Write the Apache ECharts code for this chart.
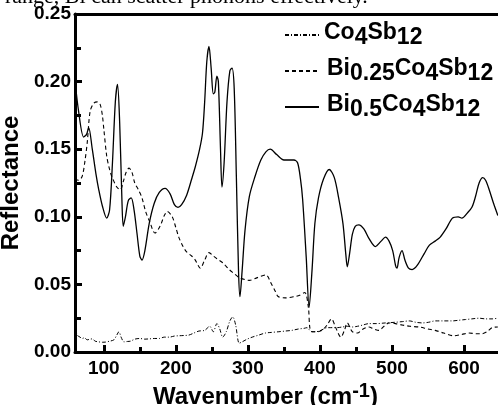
<!DOCTYPE html>
<html>
<head>
<meta charset="utf-8">
<script src="https://cdn.jsdelivr.net/npm/echarts@6/dist/echarts.min.js"></script>
<style>
  html, body { margin: 0; padding: 0; background: #fff; }
  #main { width: 498px; height: 405px; }
</style>
</head>
<body>
<div id="main"></div>
<script>
// 数据: 波数 (cm-1) 与反射率
var seriesNames = ['Co4Sb12', 'Bi0.25Co4Sb12', 'Bi0.5Co4Sb12'];

var coWave = [60, 63, 67, 70, 73, 77, 81, 84, 88, 93, 98, 102, 108, 114, 118, 121, 124, 128, 133, 137,
  143, 150, 157, 163, 170, 177, 184, 191, 198, 204, 211, 218, 225, 232, 240, 247, 252, 257, 261, 265,
  270, 275, 279, 283, 288, 292, 299, 306, 315, 324, 333, 343, 352, 361, 370, 378, 382, 386, 389, 394,
  399, 405, 410, 417, 424, 431, 438, 445, 452, 460, 468, 478, 491, 505, 515, 524, 533, 542, 551, 560,
  572, 584, 593, 602, 611, 621, 630, 639, 647];
var coRefl = [0.0185, 0.0125, 0.011, 0.010, 0.0105, 0.009, 0.0095, 0.0097, 0.008, 0.0075, 0.0072, 0.0073, 0.008, 0.009, 0.0125, 0.015, 0.011, 0.0075, 0.0078, 0.008,
  0.0095, 0.010, 0.0095, 0.0097, 0.010, 0.010, 0.011, 0.011, 0.0118, 0.012, 0.0122, 0.0125, 0.014, 0.0155, 0.016, 0.019, 0.015, 0.021, 0.017, 0.011,
  0.015, 0.023, 0.026, 0.020, 0.0065, 0.0075, 0.0095, 0.011, 0.0125, 0.014, 0.0145, 0.015, 0.0155, 0.016, 0.017, 0.0175, 0.018, 0.016, 0.015, 0.015,
  0.0155, 0.017, 0.018, 0.018, 0.018, 0.0185, 0.019, 0.0185, 0.019, 0.020, 0.021, 0.021, 0.0215, 0.022, 0.0225, 0.023, 0.022, 0.0215, 0.022, 0.023,
  0.023, 0.023, 0.0235, 0.024, 0.0245, 0.025, 0.0245, 0.0245, 0.025];

var bi25Wave = [60, 65, 70, 74, 77, 81, 86, 91, 95, 98, 100, 104, 108, 111, 118, 123, 127, 131, 135, 139,
  143, 148, 153, 158, 164, 171, 178, 184, 188, 195, 200, 204, 210, 215, 222, 227, 234, 240, 246, 252,
  257, 265, 274, 281, 288, 296, 302, 313, 325, 332, 338, 342, 352, 365, 372, 379, 384, 386, 389, 396,
  403, 410, 416, 422, 429, 434, 438, 445, 452, 460, 468, 475, 482, 489, 496, 505, 514, 525, 538, 550,
  560, 572, 586, 597, 607, 617, 625, 632, 639, 647];
var bi25Refl = [0.128, 0.127, 0.130, 0.142, 0.155, 0.178, 0.184, 0.185, 0.183, 0.175, 0.165, 0.145, 0.135, 0.130, 0.122, 0.120, 0.126, 0.133, 0.136, 0.133,
  0.125, 0.120, 0.114, 0.104, 0.096, 0.088, 0.093, 0.101, 0.104, 0.100, 0.092, 0.085, 0.078, 0.074, 0.071, 0.068, 0.062, 0.068, 0.0735, 0.071,
  0.069, 0.066, 0.061, 0.058, 0.055, 0.0535, 0.053, 0.055, 0.057, 0.051, 0.045, 0.041, 0.040, 0.041, 0.042, 0.044, 0.033, 0.018, 0.015, 0.015,
  0.016, 0.020, 0.0245, 0.018, 0.011, 0.016, 0.0215, 0.015, 0.014, 0.017, 0.0185, 0.017, 0.016, 0.019, 0.0215, 0.021, 0.020, 0.019, 0.0185, 0.017,
  0.016, 0.014, 0.012, 0.013, 0.014, 0.0135, 0.0135, 0.015, 0.018, 0.0185];

var bi5Wave = [60, 65, 72, 76, 79, 84, 89, 93, 98, 104, 108, 112, 116, 119, 122, 125, 127, 130, 134, 138,
  142, 146, 150, 153, 157, 163, 170, 177, 185, 192, 198, 203, 208, 215, 222, 227, 233, 237, 240, 243,
  246, 249, 252, 254, 257, 259, 262, 264, 267, 271, 275, 278, 281, 284, 287, 289, 292, 296, 302, 310,
  318, 325, 331, 340, 350, 358, 364, 369, 373, 376, 381, 385, 389, 393, 398, 405, 413, 420, 426, 432,
  436, 438, 441, 445, 449, 454, 461, 468, 477, 485, 491, 496, 501, 505, 507, 510, 514, 518, 523, 528,
  535, 545, 552, 560, 567, 575, 584, 592, 597, 605, 611, 616, 621, 626, 630, 635, 641, 647];
var bi5Refl = [0.201, 0.178, 0.159, 0.161, 0.166, 0.150, 0.132, 0.120, 0.108, 0.099, 0.105, 0.140, 0.185, 0.198, 0.170, 0.115, 0.093, 0.100, 0.112, 0.114,
  0.105, 0.088, 0.071, 0.068, 0.075, 0.095, 0.110, 0.118, 0.121, 0.117, 0.109, 0.107, 0.109, 0.116, 0.128, 0.137, 0.150, 0.162, 0.185, 0.215,
  0.226, 0.210, 0.191, 0.192, 0.204, 0.200, 0.150, 0.122, 0.140, 0.185, 0.208, 0.210, 0.195, 0.130, 0.060, 0.041, 0.060, 0.090, 0.115, 0.130,
  0.142, 0.148, 0.150, 0.146, 0.142, 0.142, 0.142, 0.140, 0.128, 0.113, 0.070, 0.033, 0.060, 0.095, 0.114, 0.128, 0.135, 0.129, 0.114, 0.095,
  0.072, 0.063, 0.072, 0.087, 0.093, 0.094, 0.091, 0.084, 0.078, 0.082, 0.085, 0.082, 0.075, 0.064, 0.062, 0.070, 0.075, 0.068, 0.062, 0.061,
  0.064, 0.073, 0.079, 0.082, 0.085, 0.091, 0.099, 0.100, 0.099, 0.103, 0.107, 0.115, 0.125, 0.129, 0.127, 0.120, 0.110, 0.101];

var xMajor = [100, 200, 300, 400, 500, 600];
var xMinor = [150, 250, 350, 450, 550, 650];

function pairs(xs, ys) {
  var out = [];
  for (var i = 0; i < xs.length; i++) out.push([xs[i], ys[i]]);
  return out;
}

// 化学式: 数字下标
function formula(name) {
  var s = name.replace(/([A-Za-z]+)|([0-9.]+)/g, function (m, a, b) {
    return a ? '{n|' + a + '}' : '{s|' + b + '}';
  });
  return (name.indexOf('Bi') === 0 ? '{g|}' : '') + s;
}

var myChart = echarts.init(document.getElementById('main'));
var ff = 'Liberation Sans, Arial, sans-serif';

var option = {
  animation: false,
  backgroundColor: '#fff',
  grid: { left: 75, top: 14, width: 425, height: 338, outerBoundsMode: 'none', containLabel: false },
  legend: {
    orient: 'vertical',
    left: 279,
    top: 16,
    itemWidth: 34,
    itemHeight: 12,
    itemGap: 8,
    itemStyle: { opacity: 0, borderWidth: 0 },
    textStyle: {
      color: '#000',
      rich: {
        n: { fontFamily: ff, fontWeight: 'bold', fontSize: 23, lineHeight: 22, verticalAlign: 'top', color: '#000' },
        s: { fontFamily: ff, fontWeight: 'bold', fontSize: 23, lineHeight: 28, verticalAlign: 'bottom', color: '#000' },
        g: { width: 3 }
      }
    },
    formatter: formula,
    data: seriesNames
  },
  xAxis: [
    {
      type: 'value', min: 60, max: 650, position: 'bottom',
      axisLine: { lineStyle: { color: '#000', width: 3 } },
      axisTick: { inside: true, length: 7, customValues: xMajor, lineStyle: { color: '#000', width: 3 } },
      axisLabel: { customValues: xMajor, color: '#000', fontFamily: ff, fontWeight: 'bold', fontSize: 19, margin: 7 },
      splitLine: { show: false }
    },
    {
      type: 'value', min: 60, max: 650, position: 'bottom',
      axisLine: { show: false },
      axisTick: { inside: true, length: 5, customValues: xMinor, lineStyle: { color: '#000', width: 3 } },
      axisLabel: { show: false },
      splitLine: { show: false }
    },
    {
      type: 'value', min: 60, max: 650, position: 'top',
      axisLine: { lineStyle: { color: '#000', width: 3 } },
      axisTick: { show: false },
      axisLabel: { show: false },
      splitLine: { show: false }
    }
  ],
  yAxis: {
    type: 'value', min: 0, max: 0.25, interval: 0.05,
    name: 'Reflectance', nameLocation: 'middle', nameGap: 43,
    nameTextStyle: { color: '#000', fontFamily: ff, fontWeight: 'bold', fontSize: 24 },
    axisLine: { lineStyle: { color: '#000', width: 3 } },
    axisTick: { inside: true, length: 7, lineStyle: { color: '#000', width: 3 } },
    minorTick: { show: true, splitNumber: 2, length: 6, lineStyle: { color: '#000', width: 3 } },
    axisLabel: {
      color: '#000', fontFamily: ff, fontWeight: 'bold', fontSize: 19, margin: 4,
      padding: [0, 0, 5, 0],
      formatter: function (v) { return v.toFixed(2); }
    },
    splitLine: { show: false }
  },
  graphic: [
    {
      type: 'text', left: 153, top: 381,
      style: {
        text: '{t|Wavenumber (cm}{u|-1}{t|)}',
        rich: {
          t: { fontFamily: ff, fontWeight: 'bold', fontSize: 24, lineHeight: 28, verticalAlign: 'bottom', fill: '#000' },
          u: { fontFamily: ff, fontWeight: 'bold', fontSize: 20, lineHeight: 28, verticalAlign: 'top', fill: '#000' }
        }
      }
    },
    {
      type: 'rect', left: 0, top: 0, z: 99,
      shape: { width: 498, height: 3 },
      style: { fill: '#fff' }
    },
    {
      type: 'text', left: 5, top: -14, z: 100,
      style: {
        text: 'range, Bi can scatter phonons effectively.',
        fontFamily: 'Liberation Serif, serif', fontSize: 22, fill: '#000'
      }
    }
  ],
  series: [
    {
      name: seriesNames[0], type: 'line', showSymbol: false, symbol: 'none', smooth: 0.3,
      lineStyle: { color: '#000', width: 1, type: [4, 2, 1, 2] },
      itemStyle: { color: '#000' },
      data: pairs(coWave, coRefl)
    },
    {
      name: seriesNames[1], type: 'line', showSymbol: false, symbol: 'none', smooth: 0.3,
      lineStyle: { color: '#000', width: 1.1, type: [4, 3] },
      itemStyle: { color: '#000' },
      data: pairs(bi25Wave, bi25Refl)
    },
    {
      name: seriesNames[2], type: 'line', showSymbol: false, symbol: 'none', smooth: 0.3,
      lineStyle: { color: '#000', width: 1.3 },
      itemStyle: { color: '#000' },
      data: pairs(bi5Wave, bi5Refl)
    }
  ]
};

myChart.setOption(option);
</script>
</body>
</html>
